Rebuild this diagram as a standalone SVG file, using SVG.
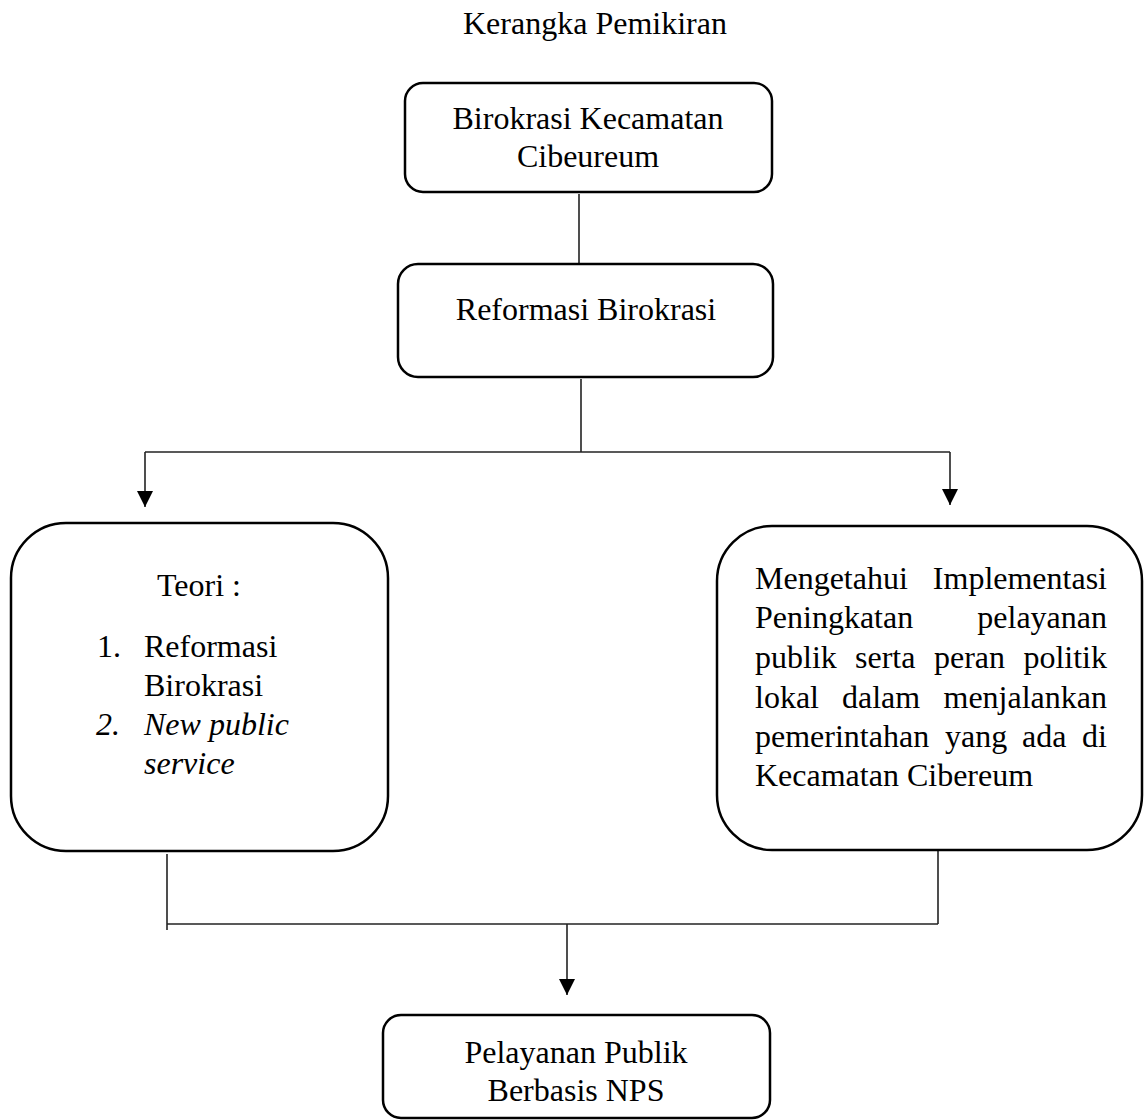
<svg xmlns="http://www.w3.org/2000/svg" width="1144" height="1120" viewBox="0 0 1144 1120">
<style>
  text { font-family: "Liberation Serif", "Times New Roman", serif; font-size: 32px; fill: #000; }
  .box { fill: #fff; stroke: #000; stroke-width: 2.5; }
  .conn { fill: none; stroke: #222; stroke-width: 1.6; }
  .it { font-style: italic; }
</style>
<defs>
  <marker id="arrow" viewBox="0 0 16 16" refX="16" refY="8" markerWidth="16" markerHeight="16" markerUnits="userSpaceOnUse" orient="auto">
    <path d="M0,0 L16,8 L0,16 Z" fill="#000"/>
  </marker>
</defs>
<rect width="1144" height="1120" fill="#fff"/>

<g id="title">
  <text x="463" y="34">Kerangka Pemikiran</text>
</g>

<g id="connectors">
  <line class="conn" x1="579" y1="194" x2="579" y2="264"/>
  <line class="conn" x1="581" y1="379" x2="581" y2="452"/>
  <line class="conn" x1="145" y1="452" x2="950" y2="452"/>
  <line class="conn" x1="145" y1="452" x2="145" y2="507" marker-end="url(#arrow)"/>
  <line class="conn" x1="950" y1="452" x2="950" y2="505" marker-end="url(#arrow)"/>
  <line class="conn" x1="167" y1="854" x2="167" y2="930"/>
  <line class="conn" x1="938" y1="851" x2="938" y2="924"/>
  <line class="conn" x1="167" y1="924" x2="938" y2="924"/>
  <line class="conn" x1="567" y1="924" x2="567" y2="995" marker-end="url(#arrow)"/>
</g>

<g id="node-birokrasi">
  <rect class="box" x="405" y="83" width="367" height="109" rx="18"/>
  <text x="588" y="129" text-anchor="middle">Birokrasi Kecamatan</text>
  <text x="588" y="167" text-anchor="middle">Cibeureum</text>
</g>

<g id="node-reformasi">
  <rect class="box" x="398" y="264" width="375" height="113" rx="20"/>
  <text x="586" y="320" text-anchor="middle">Reformasi Birokrasi</text>
</g>

<g id="node-teori">
  <rect class="box" x="11" y="523" width="377" height="328" rx="55"/>
  <text x="199" y="596" text-anchor="middle">Teori :</text>
  <text x="97" y="657">1.</text>
  <text x="144" y="657">Reformasi</text>
  <text x="144" y="696">Birokrasi</text>
  <text class="it" x="96" y="735">2.</text>
  <text class="it" x="144" y="735">New public</text>
  <text class="it" x="144" y="774">service</text>
</g>

<g id="node-tujuan">
  <rect class="box" x="717" y="526" width="425" height="324" rx="55"/>
  <text x="755" y="589">Mengetahui</text>
  <text x="1107" y="589" text-anchor="end">Implementasi</text>
  <text x="755" y="628">Peningkatan</text>
  <text x="1107" y="628" text-anchor="end">pelayanan</text>
  <text x="755" y="668">publik</text>
  <text x="855" y="668">serta</text>
  <text x="934" y="668">peran</text>
  <text x="1107" y="668" text-anchor="end">politik</text>
  <text x="755" y="708">lokal</text>
  <text x="842" y="708">dalam</text>
  <text x="1107" y="708" text-anchor="end">menjalankan</text>
  <text x="755" y="747">pemerintahan</text>
  <text x="945" y="747">yang</text>
  <text x="1022" y="747">ada</text>
  <text x="1107" y="747" text-anchor="end">di</text>
  <text x="755" y="786">Kecamatan Cibereum</text>
</g>

<g id="node-pelayanan">
  <rect class="box" x="383" y="1015" width="387" height="103" rx="18"/>
  <text x="576" y="1063" text-anchor="middle">Pelayanan Publik</text>
  <text x="576" y="1101" text-anchor="middle">Berbasis NPS</text>
</g>
</svg>
